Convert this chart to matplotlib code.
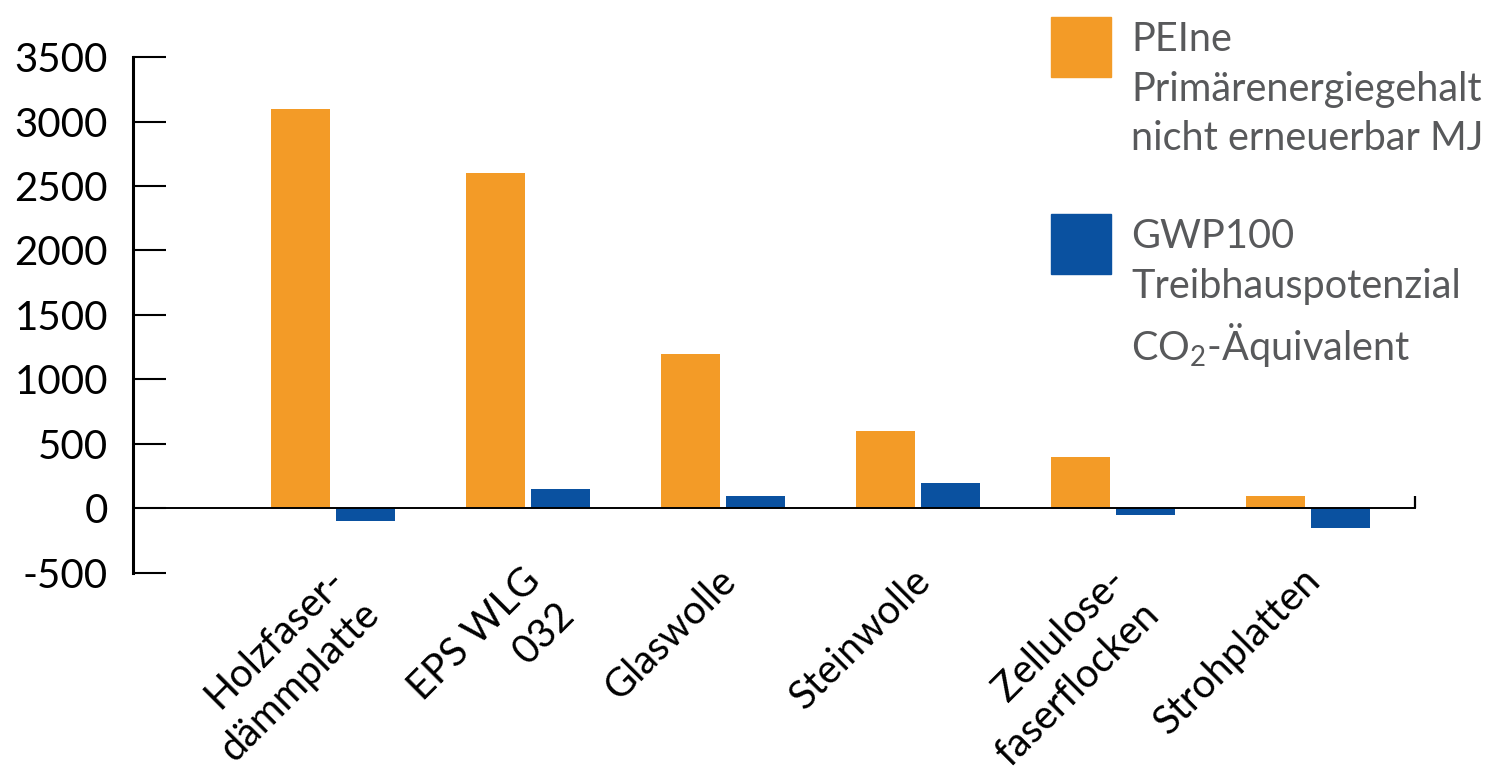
import matplotlib
matplotlib.use('Agg')
import matplotlib.pyplot as plt
import matplotlib.transforms as mtransforms
from matplotlib.patches import Rectangle

plt.rcParams['font.family'] = ['Lato', 'DejaVu Sans']
plt.rcParams['mathtext.default'] = 'regular'

# data
categories = ['Holzfaser-\ndämmplatte', 'EPS WLG\n032', 'Glaswolle',
              'Steinwolle', 'Zellulose-\nfaserflocken', 'Strohplatten']
pei_values = [3100, 2600, 1200, 600, 400, 100]
gwp_values = [-100, 150, 100, 200, -50, -150]
legend_labels = ['PEIne\nPrimärenergiegehalt\nnicht erneuerbar MJ',
                 'GWP100\nTreibhauspotenzial\nCO$_2$-Äquivalent']
yticks = [-500, 0, 500, 1000, 1500, 2000, 2500, 3000, 3500]

orange = '#F39B27'
blue = '#0A51A0'
gray = '#58595B'
fs = 29

fig = plt.figure(figsize=(15, 7.82), dpi=100)
ax = fig.add_axes([0.0887, 0.2673, 0.8547, 0.6598])

x = list(range(len(categories)))
w = 0.30
off = 0.167
ax.bar([i - off for i in x], pei_values, width=w, color=orange)
ax.bar([i + off for i in x], gwp_values, width=w, color=blue)

ax.set_xlim(-1.026, 5.549)
ax.set_ylim(-500, 3500)
ax.set_yticks(yticks)
ax.set_yticklabels([str(v) for v in yticks])

# axis styling
for s in ['top', 'right']:
    ax.spines[s].set_visible(False)
ax.spines['left'].set_linewidth(2.2)
ax.spines['bottom'].set_position(('data', 0))
ax.spines['bottom'].set_linewidth(1.4)
ax.tick_params(axis='y', direction='in', length=24, width=1.5,
               pad=18, labelsize=fs)
ax.set_xticks([])
ax.set_xticks([5.549], minor=True)
ax.tick_params(axis='x', which='minor', direction='in', length=9, width=1.6)

# category labels, rotated 45 degrees below the axes
trans = mtransforms.blended_transform_factory(ax.transData, ax.transAxes)
for i, lab in zip(x, categories):
    ax.text(i - 0.035, 0.022, lab, transform=trans, rotation=45,
            rotation_mode='anchor', ha='right', va='top',
            multialignment='right', fontsize=28.5, linespacing=1.36)

# legend drawn by hand to match the layout
for (ytop, col, lab) in [(17, orange, legend_labels[0]),
                         (214, blue, legend_labels[1])]:
    fig.add_artist(Rectangle((1051 / 1500, 1 - (ytop + 60) / 782),
                             60 / 1500, 60 / 782, color=col,
                             transform=fig.transFigure))
    fig.text(1131 / 1500, 1 - (ytop + 4) / 782, lab, color=gray,
             fontsize=28.5, va='top', ha='left', linespacing=1.42)

plt.savefig('out.png', dpi=100)
